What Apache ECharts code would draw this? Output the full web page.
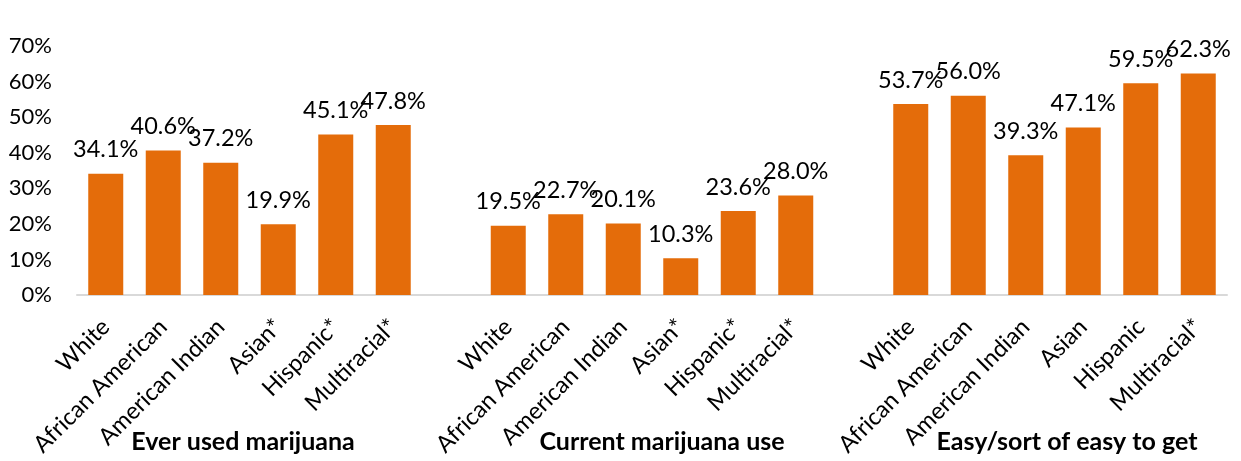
<!DOCTYPE html>
<html>
<head>
<meta charset="utf-8">
<script src="https://cdn.jsdelivr.net/npm/echarts@6/dist/echarts.min.js"></script>
<style>
  html, body { margin: 0; padding: 0; background: #fff; }
  #chart { width: 1241px; height: 461px; }
</style>
</head>
<body>
<div id="chart"></div>
<script>
// Group titles and the race/ethnicity categories inside each group
const groupNames = ['Ever used marijuana', 'Current marijuana use', 'Easy/sort of easy to get'];
const everCats = ['White', 'African American', 'American Indian', 'Asian*', 'Hispanic*', 'Multiracial*'];
const currentCats = ['White', 'African American', 'American Indian', 'Asian*', 'Hispanic*', 'Multiracial*'];
const easyCats = ['White', 'African American', 'American Indian', 'Asian', 'Hispanic', 'Multiracial*'];

// Percentages per group
const everUsed = [34.1, 40.6, 37.2, 19.9, 45.1, 47.8];
const currentUse = [19.5, 22.7, 20.1, 10.3, 23.6, 28.0];
const easyToGet = [53.7, 56.0, 39.3, 47.1, 59.5, 62.3];

// Y axis ticks
const yTicks = [0, 10, 20, 30, 40, 50, 60, 70];

// One flat category axis: groups separated by a blank slot
const categories = [];
const values = [];
const blocks = [[everCats, everUsed], [currentCats, currentUse], [easyCats, easyToGet]];
blocks.forEach(([cats, vals], gi) => {
  if (gi > 0) { categories.push(''); values.push('-'); }
  cats.forEach((c, i) => { categories.push(c); values.push(vals[i]); });
});

const FONT = 'Lato, "Open Sans", sans-serif';
const chart = echarts.init(document.getElementById('chart'), null, { renderer: 'canvas' });

chart.setOption({
  animation: false,
  grid: { left: 77, right: 14, top: 46, bottom: 166, containLabel: false },
  xAxis: {
    type: 'category',
    data: categories,
    axisLine: { lineStyle: { color: '#d9d9d9', width: 2 } },
    axisTick: { show: false },
    axisLabel: {
      interval: 0,
      rotate: 45,
      margin: 28,
      color: '#000',
      fontFamily: FONT,
      fontSize: 23.5
    }
  },
  yAxis: {
    type: 'value',
    min: yTicks[0],
    max: yTicks[yTicks.length - 1],
    interval: 10,
    splitLine: { show: false },
    axisLine: { show: false },
    axisTick: { show: false },
    axisLabel: {
      margin: 25,
      color: '#000',
      fontFamily: FONT,
      fontSize: 22,
      formatter: v => v + '%'
    }
  },
  series: [{
    type: 'bar',
    data: values,
    barWidth: 35,
    itemStyle: { color: '#E46C0A' },
    label: {
      show: true,
      position: 'top',
      distance: 12,
      color: '#000',
      fontFamily: FONT,
      fontSize: 23.5,
      formatter: p => p.value.toFixed(1) + '%'
    }
  }]
});

// Bold group captions beneath each block of bars
const groupX = [243, 662, 1067];
chart.setOption({
  graphic: groupNames.map((name, i) => ({
    type: 'text',
    x: groupX[i],
    y: 442,
    style: {
      text: name,
      fill: '#000',
      font: 'bold 25px ' + FONT,
      align: 'center',
      verticalAlign: 'middle'
    }
  }))
});
</script>
</body>
</html>
